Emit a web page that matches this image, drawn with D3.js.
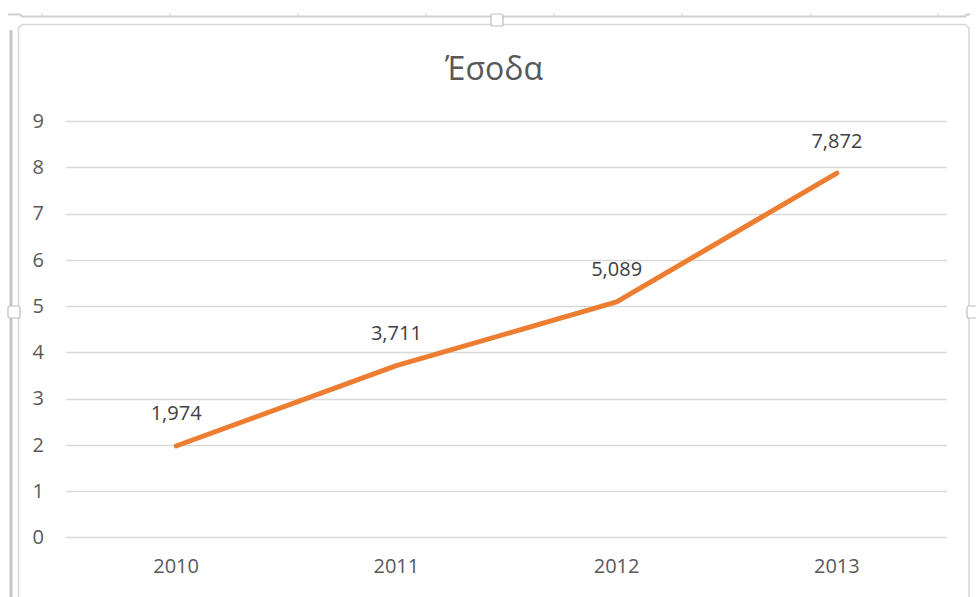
<!DOCTYPE html>
<html>
<head>
<meta charset="utf-8">
<script src="https://cdn.jsdelivr.net/npm/d3@7"></script>
<style>
  html, body { margin: 0; padding: 0; background: #ffffff; }
  svg { display: block; }
</style>
</head>
<body>
<svg id="chart" width="976" height="597"></svg>
<script>
const title = "Έσοδα";
const categories = ["2010", "2011", "2012", "2013"];
const values = [1.974, 3.711, 5.089, 7.872];
const valueLabels = ["1,974", "3,711", "5,089", "7,872"];
const yTicks = [0, 1, 2, 3, 4, 5, 6, 7, 8, 9];
const rulerTicks = [42, 170, 298, 426, 554, 682, 811, 938];

(function () {
const svg = d3.select("#chart");
const font = "'Open Sans', 'Liberation Sans', sans-serif";

// Excel-like frame decorations
const frame = svg.append("g");
frame.append("path")
  .attr("d", "M8,14.5 H20 L22,16.5 H965 L967,14.5 H970")
  .attr("fill", "none").attr("stroke", "#cfcfcf").attr("stroke-width", 2);
frame.selectAll("line.rt").data(rulerTicks).enter().append("line")
  .attr("x1", d => d).attr("x2", d => d).attr("y1", 13).attr("y2", 16)
  .attr("stroke", "#d0d0d0").attr("stroke-width", 1);
frame.append("path")
  .attr("d", "M18.5,597 V28 L22,24.5 H965 L969,28 V597")
  .attr("fill", "none").attr("stroke", "#d6d6d6").attr("stroke-width", 1.5);
frame.append("line")
  .attr("x1", 11).attr("x2", 11).attr("y1", 30).attr("y2", 597)
  .attr("stroke", "#c6c6c6").attr("stroke-width", 3);
// handles
frame.append("rect").attr("x", 491).attr("y", 14).attr("width", 12).attr("height", 12).attr("rx", 2)
  .attr("fill", "#fff").attr("stroke", "#bdbdbd").attr("stroke-width", 1.2);
frame.append("rect").attr("x", 8).attr("y", 306).attr("width", 12).attr("height", 12).attr("rx", 2)
  .attr("fill", "#fff").attr("stroke", "#bdbdbd").attr("stroke-width", 1.2);
frame.append("rect").attr("x", 967).attr("y", 306).attr("width", 12).attr("height", 12).attr("rx", 2)
  .attr("fill", "#fff").attr("stroke", "#bdbdbd").attr("stroke-width", 1.2);

// plot area
const pLeft = 66, pRight = 947, pTop = 121, pBottom = 537.3;
const x = d3.scaleBand().domain(categories).range([pLeft, pRight]).padding(0);
const y = d3.scaleLinear().domain([0, 9]).range([pBottom, pTop]);

// gridlines
svg.append("g").selectAll("line").data(yTicks).enter().append("line")
  .attr("x1", pLeft).attr("x2", pRight)
  .attr("y1", d => Math.round(y(d)) + 0.5).attr("y2", d => Math.round(y(d)) + 0.5)
  .attr("stroke", "#d9d9d9").attr("stroke-width", 1.3);

// y axis labels
const yAxis = d3.axisLeft(y).tickValues(yTicks).tickSize(0).tickPadding(0).tickFormat(d3.format("d"));
const gy = svg.append("g").attr("transform", "translate(44,0)").call(yAxis);
gy.select(".domain").remove();
gy.selectAll("text").attr("font-family", font).attr("font-size", 20).attr("fill", "#595959");

// x axis labels
const xAxis = d3.axisBottom(x).tickSize(0).tickPadding(0);
const gx = svg.append("g").attr("transform", "translate(0,559)").call(xAxis);
gx.select(".domain").remove();
gx.selectAll("text").attr("font-family", font).attr("font-size", 20).attr("fill", "#595959");

// line
const data = categories.map((c, i) => ({ c, v: values[i], label: valueLabels[i] }));
const line = d3.line().x(d => x(d.c) + x.bandwidth() / 2).y(d => y(d.v));
svg.append("path").datum(data)
  .attr("d", line)
  .attr("fill", "none").attr("stroke", "#ED7D31").attr("stroke-width", 5)
  .attr("stroke-linejoin", "round").attr("stroke-linecap", "round");

// data labels
svg.append("g").selectAll("text").data(data).enter().append("text")
  .attr("x", d => x(d.c) + x.bandwidth() / 2)
  .attr("y", d => y(d.v) - 33)
  .attr("text-anchor", "middle").attr("dominant-baseline", "central")
  .attr("font-family", font).attr("font-size", 20).attr("fill", "#404040")
  .text(d => d.label);

// title
svg.append("text")
  .attr("x", 494).attr("y", 80)
  .attr("text-anchor", "middle")
  .attr("font-family", font).attr("font-size", 32).attr("fill", "#595959")
  .text(title);
})();
</script>
</body>
</html>
